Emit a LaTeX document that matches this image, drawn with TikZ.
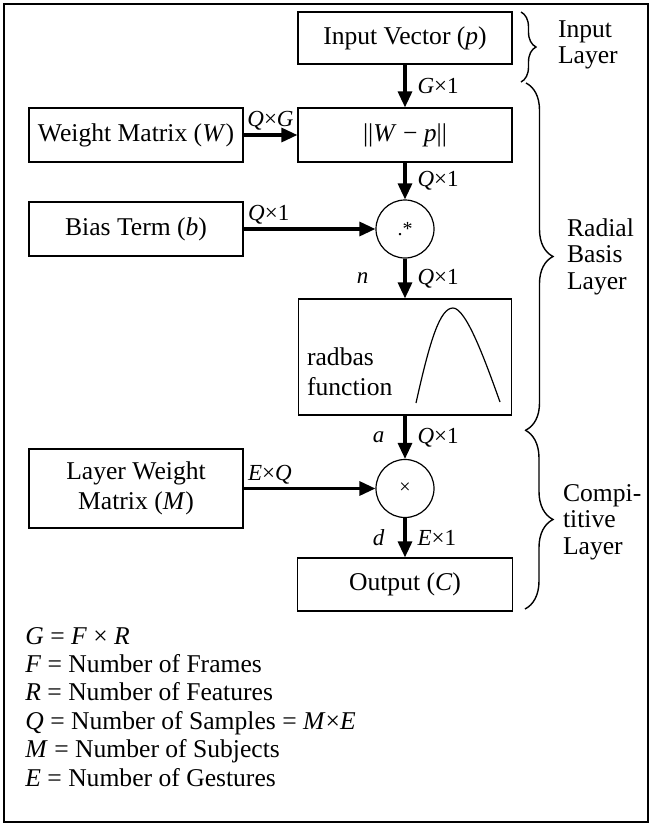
\documentclass[tikz,border=0pt]{standalone}
\usepackage{fontspec}
\setmainfont{Liberation Serif}
\usetikzlibrary{arrows.meta,decorations.pathreplacing,positioning}

\begin{document}
\begin{tikzpicture}[x=0.5pt, y=-0.5pt,
  every node/.style={font=\fontsize{12.8}{14.2}\selectfont},
  box/.style={draw, line width=0.6pt, minimum width=107pt, minimum height=27pt, inner sep=1pt},
  op/.style={draw, circle, line width=0.6pt, minimum size=29pt, inner sep=0pt},
  flow/.style={line width=1.6pt, -{Triangle[length=8pt,width=7pt]}},
  dim/.style={font=\fontsize{11.5}{13}\selectfont, inner sep=1.5pt},
  bracket/.style={decorate, decoration={brace, amplitude=#1}, line width=0.7pt},
  side/.style={align=left, anchor=west, font=\fontsize{12.8}{13.3}\selectfont}]
  \useasboundingbox (0,0) rectangle (653,826);
  \draw[line width=0.8pt] (4,4) rectangle (648,822);

  % network blocks
  \node[box, minimum height=26pt] (invec) at (405,38) {Input Vector (\textit{p})};
  \node[box] (dist) at (405,135) {||\textit{W} − \textit{p}||};
  \node[box] (wmat) at (136,135) {Weight Matrix (\textit{W})};
  \node[box] (bias) at (136,229) {Bias Term (\textit{b})};
  \node[op] (mult) at (405,229) {\fontsize{10}{10}\selectfont .*};
  \node[box, minimum width=106.5pt, minimum height=58pt] (radbas) at (405,357) {};
  \node[align=left, anchor=west, font=\fontsize{12.8}{15}\selectfont] (rbtext) at (300,372) {radbas\\function};
  \draw[line width=0.6pt] (416,403) .. controls (430,340) and (440,308) .. (453,308)
    .. controls (466,308) and (485,360) .. (500,402);
  \node[op] (prod) at (405,488.5) {\fontsize{10}{10}\selectfont ×};
  \node[box, minimum height=39.5pt, align=center, font=\fontsize{12.8}{15}\selectfont] (lwmat) at (136,488.5) {Layer Weight\\Matrix (\textit{M})};
  \node[box, minimum width=107.5pt, minimum height=26.5pt] (out) at (405,584.5) {Output (\textit{C})};

  % signal flow
  \draw[flow] (invec) -- (dist) node[dim, midway, right=4pt] {\textit{G}×1};
  \draw[flow] (wmat) -- (dist) node[dim, midway, above] {\textit{Q}×\textit{G}};
  \draw[flow] (dist) -- (mult) node[dim, midway, right=4pt] {\textit{Q}×1};
  \draw[flow] (bias) -- (mult) node[dim, pos=0, above right] {\textit{Q}×1};
  \draw[flow] (mult) -- (radbas) node[dim, midway, right=4pt] {\textit{Q}×1}
    node[dim, midway, left=16pt] {\textit{n}};
  \draw[flow] (radbas) -- (prod) node[dim, midway, right=4pt] {\textit{Q}×1}
    node[dim, midway, left=8pt] {\textit{a}};
  \draw[flow] (lwmat) -- (prod) node[dim, pos=0, above right] {\textit{E}×\textit{Q}};
  \draw[flow] (prod) -- (out) node[dim, midway, right=4pt] {\textit{E}×1}
    node[dim, midway, left=8pt] {\textit{d}};

  % layer braces
  \draw[bracket=7.5pt] (521,12) -- (521,82);
  \draw[bracket=13.5pt] (526,83) -- (526,430);
  \draw[bracket=14pt] (525,430) -- (525,609);
  \node[side] (inlbl) at (551,45) {Input\\Layer};
  \node[side] (rblbl) at (560,256.5) {Radial\\Basis\\Layer};
  \node[side] (cplbl) at (556,522) {Compi-\\titive\\Layer};

  % legend
  \foreach \txt [count=\i from 0] in {\textit{G} = \textit{F} × \textit{R},
      \textit{F} = Number of Frames, \textit{R} = Number of Features,
      \textit{Q} = Number of Samples = \textit{M}×\textit{E},
      \textit{M} = Number of Subjects, \textit{E} = Number of Gestures}
    \node[anchor=base west, inner sep=0pt] (leg\i) at (25,{644+28.4*\i}) {\txt};
\end{tikzpicture}
\end{document}
